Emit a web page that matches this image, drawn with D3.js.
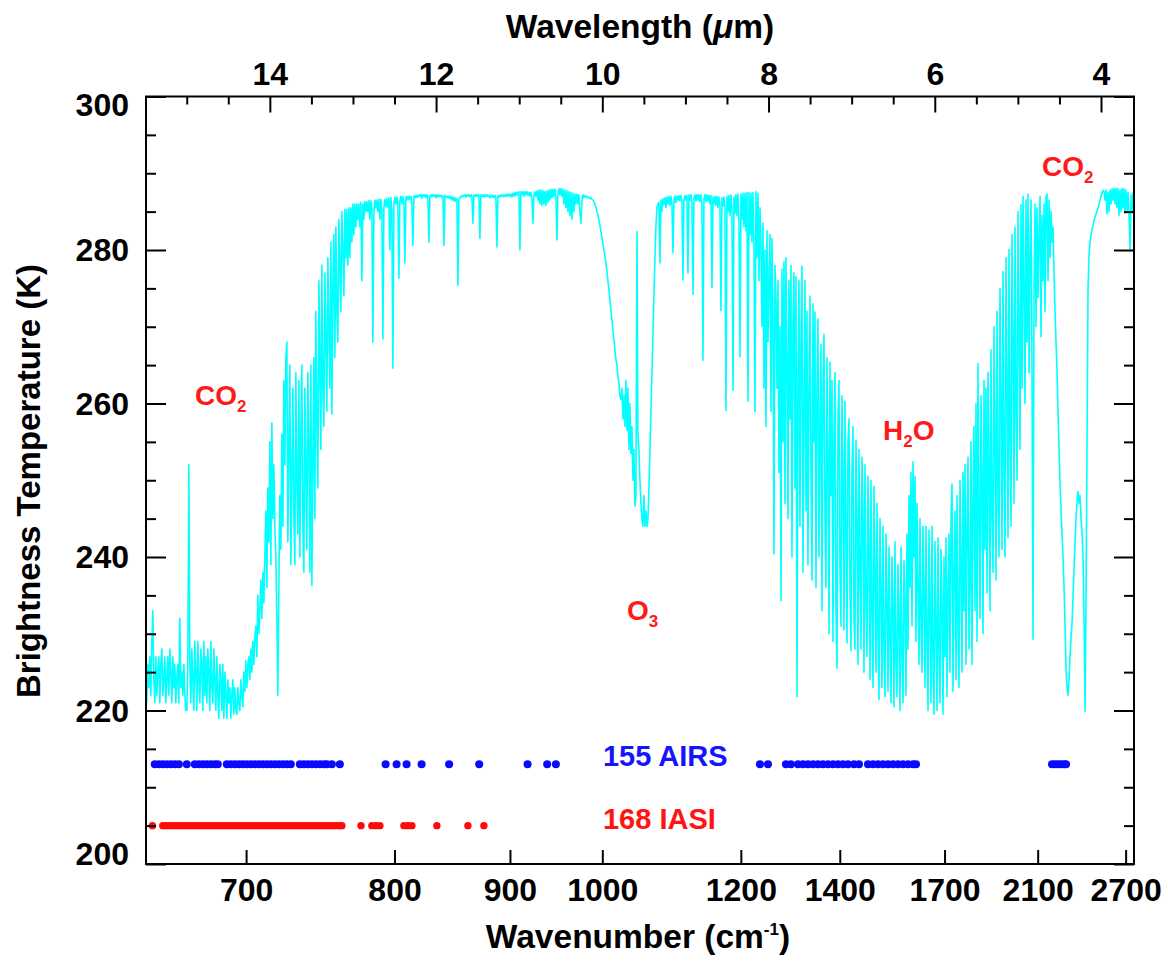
<!DOCTYPE html>
<html><head><meta charset="utf-8">
<script src="https://cdn.jsdelivr.net/npm/d3@7"></script>
<style>
html,body{margin:0;padding:0;background:#fff;}
svg{display:block;}
text{font-family:"Liberation Sans",Arial,Helvetica,sans-serif;font-weight:bold;}
</style></head><body>
<svg id="chart" width="1168" height="961"></svg>
<script>
// ---------------- data ----------------
const wavenumberTicks = [700, 800, 900, 1000, 1200, 1400, 1700, 2100, 2700];
const wavelengthTicks = [14, 12, 10, 8, 6, 4];
const wavelengthMinorTicks = [15, 14.5, 13.5, 13, 12.5, 11.5, 11, 10.5, 9.5, 9, 8.5, 7.5, 7, 6.5, 5.5, 5, 4.5];
const temperatureTicks = [200, 220, 240, 260, 280, 300];
const temperatureMinorTicks = [205, 210, 215, 225, 230, 235, 245, 250, 255, 265, 270, 275, 285, 290, 295];

// spectrum channel grid (wavelength, µm) and brightness temperatures (K)
const spectrumStartWavelength = 15.48;
const spectrumWavelengthStep = 0.012034;
const spectrumBT = [
221,226,223,227,222,229,233,224,221,227,
222,225,227,221,226,228,222,224,227,221,
224,227,222,228,225,221,227,223,226,221,
224,226,221,232,223,225,222,226,222,220,
220,226,252,226,221,228,224,220,229,225,
220,229,224,221,228,226,220,229,222,227,
221,228,225,220,229,223,221,228,224,220,
227,222,219,226,224,220,226,219,225,222,
219,224,221,223,219,222,224,219.5,223,220,
219.5,223,221,220,224,222,220.5,225,222.5,226.5,
223,226,227,224,228,225,229,226,229.5,231,
227,235,230,233,237,232,238,234,240,246,
236,249,242,255,239,257.5,245,252,244,240,
232,222,236,248,241,256,244,263,252,266,
268,242,255,265,239,250,262,245,239,264,
250,243,263,240,256,265,244,238,262,251,
241,264,255,238,265,236.3,252,266,245,272,
258,249,276,265,254,278,262,257,277,268,
259,279,270,262,281,258.6,275,282,266,283,
272,268,284,278,272,285,280,274,285.3,279,
285.3,278,285.5,279,285.5,281,286,282,286,283,
286,284,286,283,286.2,276,286,284,286.3,285,
286.3,285,286.4,284,286.4,285.5,268,285,286.5,285.5,
286.5,285,286.6,284,286.6,285,268.4,285.5,286.6,285.6,
286.7,285.6,286.8,280,286.8,285,264.6,286,286.9,286,
286.9,286,276.3,286.5,287,286,287,286.2,278.3,286.8,
287,286.5,287,286.6,287,286,280.6,287,287.1,286.8,
287.1,286.9,287.2,287,287.2,286.7,287.2,287,287.2,286.8,
287.2,286.9,281,287,287.2,286.9,287.2,287,287.2,286.8,
287.2,286.9,287.1,287,287.1,286.8,287.1,280.6,287.1,286.9,
287,286.8,287,286.7,287,286.5,286.9,286.4,286.8,286.3,
286.7,275.4,286.5,286.8,287,286.9,287.1,287,287.2,286.9,
287.2,287,287.2,286.9,287.2,287,283.5,287.1,287.2,287,
287.2,287,287.2,281.5,287.2,287,287.2,286.9,287.2,287,
287.2,287,287.1,286.8,287.1,286.9,287.1,286.8,287.1,286.9,
280.4,287,287.1,286.9,287.2,287,287.2,286.9,287.2,287,
287.3,287,287.3,287,287.3,286.9,287.4,287,287.5,287.1,
287.5,287.2,287.6,280,287.6,287.2,287.6,287,287.6,287.2,
287.6,287.1,287.5,287,287.5,286.8,283.5,287.2,287.6,287,
287.7,286.5,287.8,286,287.8,285.8,287.7,286,287.6,285.8,
287.7,286.2,287.8,286.5,287.9,286.8,287.9,287,287.9,287.1,
281.3,287.2,288,287.2,288,287,287.9,286,287.8,285.5,
287.7,285,287.6,284.5,287.5,284,287.4,285,287.3,286,
287.3,286,287.2,285,283.5,286.5,287.2,286.8,287.1,286.9,
287,286.8,286.9,286.7,286.8,286.6,286.5,286.3,286,285.5,
285,284.6,283.9,283.2,282.4,281.6,280.8,280,279.2,278.3,
277.2,276,274.8,273.5,272.2,270.9,269.6,268.3,267,265.7,
265,263.5,262.6,261,260.5,262,258,261,257,263,
256.5,262,254,260,253.5,257,250,254,246.6,248,
282.4,256,254,250,247,245,244,248,244,246,
244,245,249,254,259,264,268.7,274,279,283,
285.6,286,286.2,278.3,286.5,285,286.7,286,286.8,285.5,
286.9,286,287,285.8,287,286,279.6,286.5,287,286.2,
287,286.5,287.1,286.4,287.1,286.3,276.1,286.6,287.1,286.5,
287.1,277,287.2,286.5,287.2,286,274.2,286.8,287.2,286.4,
287.2,286.5,287.2,286.3,287.2,286,265.6,286.6,287.2,286.3,
287.2,286.4,287.1,286,287.1,275.1,286.9,286,287,285.8,
287,285.5,286.9,285.8,272.1,286.8,285.7,286.9,285.5,259.1,
287,285,287.1,284.5,287.2,285,261.7,286.9,284.8,287.2,
284.5,287.3,283.5,266.1,287.3,284,287.4,283,287.4,282.5,
287.5,260.3,287.5,282,287.4,281,287.5,280.5,258.9,287.6,
279,287.4,276,285.5,281,270,283.5,262,280,257,
282.5,268,276,282,259,281.5,271,240.4,278,273.3,
262,276,251,270,234.3,277.5,255,278.5,247,279,
266,245,276,258,278,240,270,277,249,276.5,
221.8,262,276,244,268,277.9,238,258,276,246,
272,239,262,274,251,237,273,255,271.9,236,
262,271,240,257,267.7,233,262,269,245,236,
266,252,230,265.4,248,263,229,255,264,233,
225.5,258,263,238,231,261,251,230.5,260.3,243,
228.8,255,258,236,227.8,251,257,232,228,255.2,
245,226,254,239,228,253,246,225,252,234,
227,250.5,241,224,250,232,223,249.2,238,225,
247,230,221.4,245,236,223,244,228,221.8,243,
234,222.5,241.3,229,221,240,233,220.5,242,226,
221.8,239,231,220,241.3,227,221,239.5,234,222,
243,228,248,236,251,231,252.4,240,250.5,229,
247,236,226,245,232,225,244,235,223,244,
229,220,243.5,233,221,244,226,219.5,242,231,
220,242.5,228,221,241,234,219.5,240,227,242.5,
221.8,236,243,225,245,249.5,222.5,238,246,224,
248,231,223,250,239,225,251,233,252,226,
244,253,228,236,255,226,248,257,233,260,
229,265.2,245,232,261,250,230,263,241,262,
235.3,264,252,233,267,245,238,270,255,237,
272,248,240,275,260,241,277.2,252,240,279,
262,242.5,280.1,255,244,282,268,247,283,259,
250,285,270,254,285.9,262,287,275,260,286.5,
268,287.3,264,280,286.5,264.2,229.3,275,286,270,
285.5,273.8,282,287,268.7,284.5,276,286,272,287,
287.3,276,286.5,279,285,281,283,277,272,268,
264.2,259,254,249.7,246,243,240.1,236,231,225.6,
223,222,224,227,229.5,231.4,235,238.5,242,245,
247.3,248.5,247,248,245,243,240.1,232,219.9,235,
254.6,275,279.5,281,282,282.7,283.3,283.8,284.3,284.7,
285,285.5,286,286.5,287,287.4,287.8,287.6,286.5,287.8,
284.7,287.5,285,287.8,286,288,286.5,288,286,288,
285.5,288,284.5,287.8,285,288,285.5,288,284.8,287.8,
285,287.5,284.5,280.1,287.2,285,287.5,286
];

// selected channels (wavenumber, cm-1)
const airsChannels = [
650.0,652.1,654.1,656.2,658.3,660.4,662.5,666.7,671.0,673.2,675.4,677.6,679.8,682.0,683.7,
688.8,691.1,693.4,695.8,698.1,700.4,702.8,705.2,707.6,710.0,712.5,714.9,717.4,719.9,722.4,724.9,727.4,
733.2,735.8,738.4,741.0,743.7,746.4,749.1,751.1,754.5,760.0,
793.2,801.6,809.4,821.4,844.4,871.0,917.5,937.8,947.1,
1234.1,1248.9,1283.6,1293.6,1307.9,1318.3,1328.8,1339.5,1350.4,1361.4,1372.7,1384.1,1395.7,1407.6,1419.6,
1434.3,1446.8,1469.8,1482.9,1496.3,1509.9,1523.7,1537.8,1552.2,1566.8,1581.7,1596.9,1606.2,
2179.0,2196.3,2213.8,2231.6,2249.8,2262.0
];
const iasiChannels = [
648.8,
654.1,655.7,657.2,658.8,660.4,661.9,663.5,665.1,666.7,668.3,669.9,671.6,673.2,674.8,676.5,678.2,679.8,681.5,
683.2,684.9,686.6,688.3,690.0,691.7,693.4,695.2,696.9,698.7,700.4,702.2,704.0,705.8,707.6,709.4,711.2,713.1,
714.9,716.7,718.6,720.5,722.4,724.2,726.1,728.1,730.0,731.9,733.8,735.8,737.7,739.7,741.7,743.7,745.7,747.7,
749.7,751.8,753.8,755.9,757.9,760.0,761.4,
775.0,782.9,785.9,788.9,807.3,810.4,813.6,834.0,860.8,875.3
];
const airsLevel = 213;   // K, row where AIRS channels are marked
const iasiLevel = 205;   // K, row where IASI channels are marked

// ---------------- drawing ----------------
const W = 1168, H = 961;
const plot = {left: 146, right: 1134, top: 96.5, bottom: 864};
const svg = d3.select("#chart");
svg.append("rect").attr("width", W).attr("height", H).attr("fill", "#fff");

const x = d3.scaleLinear().domain([15.49, 3.603]).range([plot.left, plot.right]); // wavelength (µm)
const y = d3.scaleLinear().domain([200, 300]).range([plot.bottom, plot.top]);

svg.append("clipPath").attr("id", "clip").append("rect")
  .attr("x", plot.left).attr("y", plot.top)
  .attr("width", plot.right - plot.left).attr("height", plot.bottom - plot.top);

const spectrum = spectrumBT.map((bt, i) => ({lam: spectrumStartWavelength - i * spectrumWavelengthStep, bt}));
svg.append("path").datum(spectrum)
  .attr("clip-path", "url(#clip)")
  .attr("fill", "none").attr("stroke", "#00ffff").attr("stroke-width", 1.6)
  .attr("stroke-linejoin", "round")
  .attr("d", d3.line().x(d => x(d.lam)).y(d => y(d.bt)));

svg.append("g").selectAll("circle").data(airsChannels).join("circle")
  .attr("cx", d => x(1e4 / d)).attr("cy", y(airsLevel)).attr("r", 4).attr("fill", "#0a0aff");
svg.append("g").selectAll("circle").data(iasiChannels).join("circle")
  .attr("cx", d => x(1e4 / d)).attr("cy", y(iasiLevel)).attr("r", 3.7).attr("fill", "#ff0a0a");

// axes
function style(g, fs) {
  g.attr("font-size", null).attr("font-family", null);
  g.select(".domain").remove();
  g.selectAll(".tick line").attr("stroke", "#000").attr("stroke-width", 2);
  g.selectAll(".tick text").attr("fill", "#000").style("font-size", fs + "px");
}
const TICK_FS = 32;
// left
svg.append("g").attr("transform", `translate(${plot.left},0)`)
  .call(d3.axisLeft(y).tickValues(temperatureMinorTicks).tickSize(-10).tickFormat(""))
  .call(g => style(g, TICK_FS));
const gL = svg.append("g").attr("transform", `translate(${plot.left},0)`)
  .call(d3.axisLeft(y).tickValues(temperatureTicks).tickSize(-20).tickPadding(17).tickFormat(d3.format("d")))
  .call(g => style(g, TICK_FS));
gL.selectAll(".tick text").attr("dy", d => d === 300 ? "0.6em" : d === 200 ? "0.0em" : "0.34em");
// right
svg.append("g").attr("transform", `translate(${plot.right},0)`)
  .call(d3.axisRight(y).tickValues(temperatureMinorTicks).tickSize(-10).tickFormat(""))
  .call(g => style(g, TICK_FS));
svg.append("g").attr("transform", `translate(${plot.right},0)`)
  .call(d3.axisRight(y).tickValues(temperatureTicks).tickSize(-20).tickFormat(""))
  .call(g => style(g, TICK_FS));
// top (wavelength)
svg.append("g").attr("transform", `translate(0,${plot.top})`)
  .call(d3.axisTop(x).tickValues(wavelengthMinorTicks).tickSize(-8).tickFormat(""))
  .call(g => style(g, TICK_FS));
svg.append("g").attr("transform", `translate(0,${plot.top})`)
  .call(d3.axisTop(x).tickValues(wavelengthTicks).tickSize(-16).tickPadding(12).tickFormat(d3.format("d")))
  .call(g => style(g, TICK_FS));
// bottom (wavenumber)
svg.append("g").attr("transform", `translate(0,${plot.bottom})`)
  .call(d3.axisBottom(x).tickValues(wavenumberTicks.map(w => 1e4 / w)).tickSize(-14).tickPadding(14)
        .tickFormat(d => d3.format("d")(Math.round(1e4 / d))))
  .call(g => style(g, TICK_FS));

// frame
svg.append("rect").attr("x", plot.left).attr("y", plot.top)
  .attr("width", plot.right - plot.left).attr("height", plot.bottom - plot.top)
  .attr("fill", "none").attr("stroke", "#000").attr("stroke-width", 2);

// titles
const t1 = svg.append("text").attr("x", 640).attr("y", 38).attr("text-anchor", "middle").style("font-size", "33.5px");
t1.append("tspan").text("Wavelength (");
t1.append("tspan").style("font-style", "italic").text("\u03bc");
t1.append("tspan").text("m)");
const t2 = svg.append("text").attr("x", 638).attr("y", 948).attr("text-anchor", "middle").style("font-size", "33.5px");
t2.append("tspan").text("Wavenumber (cm");
t2.append("tspan").attr("dy", -13).style("font-size", "17px").text("-1");
t2.append("tspan").attr("dy", 13).text(")");
svg.append("text").attr("transform", "translate(40,481) rotate(-90)").attr("text-anchor", "middle")
  .style("font-size", "33px").text("Brightness Temperature (K)");

// annotations
function chem(parts, px, py, color, fs) {
  const t = svg.append("text").attr("x", px).attr("y", py).attr("fill", color).style("font-size", fs + "px");
  let shift = 0;
  parts.forEach(p => {
    const s = t.append("tspan").text(p.t);
    if (p.sub) { s.attr("dy", 7).style("font-size", Math.round(fs * 0.62) + "px"); shift = 7; }
    else if (shift) { s.attr("dy", -shift); shift = 0; }
  });
  return t;
}
chem([{t: "CO"}, {t: "2", sub: true}], x(14.90), y(259.8), "#ff1a1a", 28);
chem([{t: "O"}, {t: "3", sub: true}], x(9.703), y(231.8), "#ff1a1a", 28);
chem([{t: "H"}, {t: "2", sub: true}, {t: "O"}], x(6.623), y(255.3), "#ff1a1a", 28);
chem([{t: "CO"}, {t: "2", sub: true}], x(4.710), y(289.6), "#ff1a1a", 28);
svg.append("text").attr("x", x(9.992)).attr("y", y(212.8)).attr("fill", "#1414ff").style("font-size", "29px").text("155 AIRS");
svg.append("text").attr("x", x(9.992)).attr("y", y(204.5)).attr("fill", "#ff1414").style("font-size", "29px").text("168 IASI");
</script>
</body></html>
